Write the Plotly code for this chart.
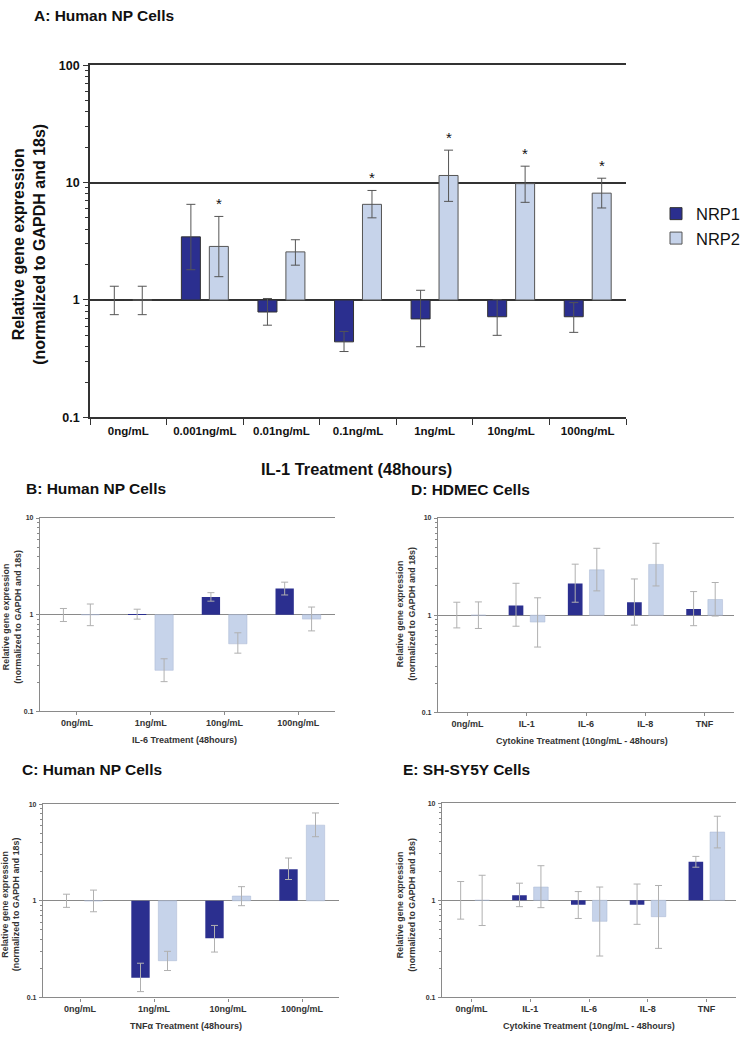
import numpy as np
import plotly.graph_objects as go

# ---------------- data ----------------
A_categories = ["0ng/mL", "0.001ng/mL", "0.01ng/mL", "0.1ng/mL", "1ng/mL", "10ng/mL", "100ng/mL"]
A_nrp1 = [1.0, 3.45, 0.79, 0.44, 0.69, 0.72, 0.72]
A_nrp1_hi = [1.31, 6.53, 1.03, 0.54, 1.21, 1.01, 0.95]
A_nrp1_lo = [0.75, 1.81, 0.61, 0.364, 0.40, 0.50, 0.53]
A_nrp2 = [1.0, 2.86, 2.57, 6.53, 11.5, 9.8, 8.13]
A_nrp2_hi = [1.31, 5.15, 3.26, 8.57, 18.9, 13.8, 10.9]
A_nrp2_lo = [0.75, 1.58, 1.98, 5.01, 6.92, 6.79, 6.08]
A_sig = [False, True, False, True, True, True, True]

B_categories = ["0ng/mL", "1ng/mL", "10ng/mL", "100ng/mL"]
B_nrp1 = [1.0, 1.01, 1.52, 1.87]
B_nrp1_hi = [1.16, 1.14, 1.69, 2.17]
B_nrp1_lo = [0.85, 0.90, 1.38, 1.60]
B_nrp2 = [1.0, 0.266, 0.50, 0.90]
B_nrp2_hi = [1.29, 0.35, 0.65, 1.2]
B_nrp2_lo = [0.77, 0.203, 0.40, 0.68]

D_categories = ["0ng/mL", "IL-1", "IL-6", "IL-8", "TNF"]
D_nrp1 = [1.0, 1.26, 2.12, 1.36, 1.16]
D_nrp1_hi = [1.36, 2.13, 3.35, 2.36, 1.75]
D_nrp1_lo = [0.74, 0.77, 1.36, 0.79, 0.78]
D_nrp2 = [1.0, 0.85, 2.93, 3.33, 1.45]
D_nrp2_hi = [1.37, 1.51, 4.88, 5.5, 2.17]
D_nrp2_lo = [0.73, 0.47, 1.78, 2.0, 0.98]

C_categories = ["0ng/mL", "1ng/mL", "10ng/mL", "100ng/mL"]
C_nrp1 = [1.0, 0.16, 0.41, 2.12]
C_nrp1_hi = [1.17, 0.226, 0.556, 2.77]
C_nrp1_lo = [0.855, 0.115, 0.295, 1.66]
C_nrp2 = [1.0, 0.24, 1.12, 6.06]
C_nrp2_hi = [1.29, 0.30, 1.40, 8.1]
C_nrp2_lo = [0.77, 0.19, 0.89, 4.6]

E_categories = ["0ng/mL", "IL-1", "IL-6", "IL-8", "TNF"]
E_nrp1 = [1.0, 1.13, 0.90, 0.90, 2.49]
E_nrp1_hi = [1.56, 1.50, 1.23, 1.47, 2.83]
E_nrp1_lo = [0.64, 0.86, 0.65, 0.566, 2.19]
E_nrp2 = [1.0, 1.37, 0.607, 0.678, 5.04]
E_nrp2_hi = [1.81, 2.27, 1.37, 1.42, 7.33]
E_nrp2_lo = [0.55, 0.84, 0.267, 0.32, 3.46]

# ---------------- style ----------------
W, H = 750, 1039
FONT = "Liberation Sans, Arial, sans-serif"
NRP1_COLOR = "#2B2F8F"
NRP2_COLOR = "#C6D3EA"


def px_x(v):
    return v / W


def px_y(v):
    return 1 - v / H


fig = go.Figure()


def add_panel(idx, cats, n1, n1hi, n1lo, n2, n2hi, n2lo, box, big, showlegend=False):
    xa = "x" if idx == 1 else f"x{idx}"
    ya = "y" if idx == 1 else f"y{idx}"
    if big:
        line_col = "#333333"
        err_col = "#555555"
        bar_line1 = dict(color="#333333", width=1)
        bar_line2 = dict(color="#555555", width=1)
        err_w = 4.5
    else:
        line_col = "#8A8A8A"
        err_col = "#B0B0B0"
        bar_line1 = dict(color=NRP1_COLOR, width=0)
        bar_line2 = dict(color="#A9B7D3", width=0.5)
        err_w = 3.5
    for name, vals, hi, lo, col, ln in [
        ("NRP1", n1, n1hi, n1lo, NRP1_COLOR, bar_line1),
        ("NRP2", n2, n2hi, n2lo, NRP2_COLOR, bar_line2),
    ]:
        v = np.array(vals)
        fig.add_trace(go.Bar(
            x=cats, y=v - 1.0, base=1.0, name=name,
            marker=dict(color=col, line=ln),
            error_y=dict(type="data", symmetric=False,
                         array=np.array(hi) - v, arrayminus=v - np.array(lo),
                         color=err_col, thickness=1, width=err_w),
            xaxis=xa, yaxis=ya, showlegend=showlegend,
            legendgroup=name,
        ))
    x0, x1, y0, y1 = box
    xkey = "xaxis" if idx == 1 else f"xaxis{idx}"
    ykey = "yaxis" if idx == 1 else f"yaxis{idx}"
    if big:
        tickvals = [0.1, 1, 10, 100]
        rng = [-1, 2]
        minor_vals = [m * 10.0 ** e for e in (-1, 0, 1) for m in range(2, 10)]
        tick_font = dict(family=FONT, size=12.5, color="#111111", weight="bold")
        xtick_font = dict(family=FONT, size=11.5, color="#111111", weight="bold")
        lw = 1.6
    else:
        tickvals = [0.1, 1, 10]
        rng = [-1, 1]
        minor_vals = [m * 10.0 ** e for e in (-1, 0) for m in range(2, 10)]
        tick_font = dict(family=FONT, size=7, color="#333333", weight="bold")
        xtick_font = dict(family=FONT, size=9, color="#333333", weight="bold")
        lw = 1.2
    fig.layout[xkey] = dict(
        domain=[px_x(x0), px_x(x1)], anchor=ya, type="category",
        range=[-0.5, len(cats) - 0.5], showline=True, mirror=True,
        linecolor=line_col, linewidth=lw, showgrid=False, zeroline=False,
        ticks="outside", ticklen=6 if big else 3, tickcolor=line_col,
        tickwidth=1.2 if big else 1,
        tickson="boundaries" if big else "labels",
        tickfont=xtick_font, ticklabelstandoff=2 if big else 0,
        fixedrange=True,
    )
    fig.layout[ykey] = dict(
        domain=[px_y(y1), px_y(y0)], anchor=xa, type="log", range=rng,
        tickmode="array", tickvals=tickvals,
        ticktext=[("%g" % t) for t in tickvals],
        showline=True, linecolor=line_col, linewidth=lw,
        showgrid=True, gridcolor=line_col, gridwidth=lw, zeroline=False,
        ticks="outside", ticklen=5 if big else 3, tickcolor=line_col,
        tickwidth=1.2 if big else 1, tickfont=tick_font,
        ticklabelstandoff=1,
        minor=dict(tickmode="array", tickvals=minor_vals, ticks="outside",
                   ticklen=3 if big else 2, tickcolor=line_col, showgrid=False),
        fixedrange=True,
    )


# panel boxes in pixels: (left, right, top, bottom)
add_panel(1, A_categories, A_nrp1, A_nrp1_hi, A_nrp1_lo, A_nrp2, A_nrp2_hi, A_nrp2_lo,
          (90, 626, 59, 416), True, showlegend=True)
add_panel(2, B_categories, B_nrp1, B_nrp1_hi, B_nrp1_lo, B_nrp2, B_nrp2_hi, B_nrp2_lo,
          (40, 335, 518, 714), False)
add_panel(3, D_categories, D_nrp1, D_nrp1_hi, D_nrp1_lo, D_nrp2, D_nrp2_hi, D_nrp2_lo,
          (438, 734, 518, 715), False)
add_panel(4, C_categories, C_nrp1, C_nrp1_hi, C_nrp1_lo, C_nrp2, C_nrp2_hi, C_nrp2_lo,
          (43, 339, 808, 1004), False)
add_panel(5, E_categories, E_nrp1, E_nrp1_hi, E_nrp1_lo, E_nrp2, E_nrp2_hi, E_nrp2_lo,
          (442, 736, 807, 1004), False)

annotations = []


def ann(text, x, y, size, color="#111111", weight="bold", xanchor="left", angle=0):
    annotations.append(dict(
        text=text, x=px_x(x), y=px_y(y), xref="paper", yref="paper",
        xanchor=xanchor, yanchor="middle", showarrow=False, textangle=angle,
        font=dict(family=FONT, size=size, color=color, weight=weight),
    ))


# panel titles
ann("A: Human NP Cells", 32, 9, 15.5)
ann("B: Human NP Cells", 24, 488, 15.5)
ann("D: HDMEC Cells", 409, 489, 15.5)
ann("C: Human NP Cells", 20, 773, 15.5)
ann("E: SH-SY5Y Cells", 401, 773, 15.5)

# axis titles
ann("Relative gene expression<br>(normalized to GAPDH and 18s)", 29, 241, 16,
    xanchor="center", angle=-90)
ann("IL-1 Treatment (48hours)", 356, 468, 16.4, xanchor="center")
for (cx, cy) in [(12, 618), (406, 615), (10.5, 910), (406, 910)]:
    ann("Relative gene expression<br>(normalized to GAPDH and 18s)", cx, cy, 8.9,
        color="#333333", xanchor="center", angle=-90)
ann("IL-6 Treatment (48hours)", 184, 743, 9, color="#333333", xanchor="center")
ann("Cytokine Treatment (10ng/mL - 48hours)", 582, 744, 9, color="#333333", xanchor="center")
ann("TNFα Treatment (48hours)", 186, 1033, 9, color="#333333", xanchor="center")
ann("Cytokine Treatment (10ng/mL - 48hours)", 589, 1033, 9, color="#333333", xanchor="center")

# significance asterisks above NRP2 bars in panel A
for cat, sig, hi in zip(A_categories, A_sig, A_nrp2_hi):
    if sig:
        annotations.append(dict(
            text="*", x=cat, y=float(np.log10(hi)), xref="x", yref="y",
            xshift=14, yshift=2, yanchor="bottom", showarrow=False,
            font=dict(family=FONT, size=15, color="#111111"),
        ))

fig.update_layout(
    width=W, height=H, margin=dict(l=0, r=0, t=0, b=0),
    paper_bgcolor="white", plot_bgcolor="white",
    barmode="group", bargap=0.27, bargroupgap=0.32,
    annotations=annotations,
    legend=dict(x=px_x(656), y=px_y(192), xanchor="left", yanchor="top",
                font=dict(family=FONT, size=16.5, color="#111111"),
                tracegroupgap=0, itemwidth=30, bgcolor="rgba(0,0,0,0)"),
    font=dict(family=FONT),
)

# the page's default body margin would push the 750x1039 figure off the window
fig.write_html("out.html", config={"displayModeBar": False},
               post_script="document.body.style.margin='0';")
